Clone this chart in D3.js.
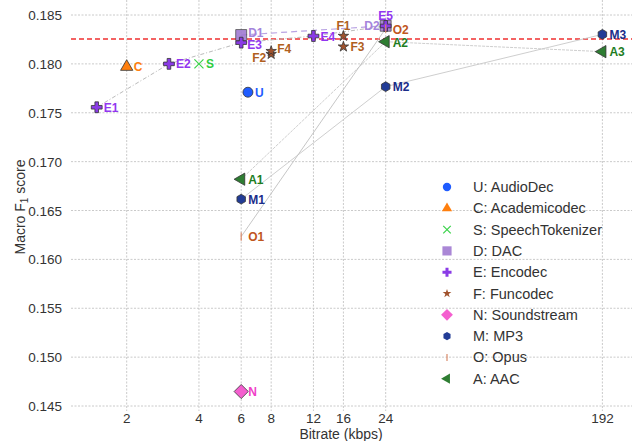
<!DOCTYPE html>
<html>
<head>
<meta charset="utf-8">
<script src="https://cdn.jsdelivr.net/npm/d3@7"></script>
<style>
  body { margin: 0; background: #fff; }
  text { font-family: "Liberation Sans", Arial, sans-serif; }
</style>
</head>
<body>
<svg id="chart" width="632" height="441"></svg>
<script>
/*****************************************************
 * data
 *****************************************************/
const xTicks = [2, 4, 6, 8, 12, 16, 24, 192];
const yTicks = [0.145, 0.150, 0.155, 0.160, 0.165, 0.170, 0.175, 0.180, 0.185];
const referenceScore = 0.18255;   // red dashed line

// each codec: [label, kbps, macro F1]
const audioDec       = [["U", 6.4, 0.1771]];
const academicodec   = [["C", 2, 0.1797]];
const speechTokenizer = [["S", 4, 0.1800]];
const dac            = [["D1", 6, 0.18295], ["D2", 24, 0.1839]];
const encodec        = [["E1", 1.5, 0.17556], ["E2", 3, 0.1800], ["E3", 6, 0.18217], ["E4", 12, 0.18285], ["E5", 24, 0.18388]];
const funcodec       = [["F1", 16, 0.18285], ["F2", 8, 0.1810], ["F3", 16, 0.18176], ["F4", 8, 0.1813]];
const soundstream    = [["N", 6, 0.14648]];
const mp3            = [["M1", 6, 0.16616], ["M2", 24, 0.17767], ["M3", 192, 0.18302]];
const opus           = [["O1", 6, 0.16233], ["O2", 24, 0.1836]];
const aac            = [["A1", 6, 0.1682], ["A2", 24, 0.18227], ["A3", 192, 0.18125]];

const legendNames = ["U: AudioDec", "C: Academicodec", "S: SpeechTokenizer", "D: DAC", "E: Encodec",
                     "F: Funcodec", "N: Soundstream", "M: MP3", "O: Opus", "A: AAC"];

/*****************************************************
 * styles
 *****************************************************/
const hexagon = {
  draw(ctx, size) {
    const r = Math.sqrt(size / (3 * Math.sqrt(3) / 2));
    for (let i = 0; i < 6; i++) {
      const a = Math.PI / 3 * i - Math.PI / 2;
      i ? ctx.lineTo(r * Math.cos(a), r * Math.sin(a)) : ctx.moveTo(r * Math.cos(a), r * Math.sin(a));
    }
    ctx.closePath();
  }
};
const vline = {
  draw(ctx, size) { const h = Math.sqrt(size) / 2; ctx.moveTo(0, -h); ctx.lineTo(0, h); }
};
const rhomb = {
  draw(ctx, size) {
    const r = Math.sqrt(size / 2);
    ctx.moveTo(0, -r); ctx.lineTo(r, 0); ctx.lineTo(0, r); ctx.lineTo(-r, 0); ctx.closePath();
  }
};

const groups = [
  { pts: audioDec,        type: d3.symbolCircle,   size: 78,  fill: "#1f5cff", stroke: "#333", text: "#1f5cff" },
  { pts: academicodec,    type: d3.symbolTriangle, size: 65,  fill: "#ff7f0e", stroke: "#333", text: "#ff7f0e" },
  { pts: speechTokenizer, type: d3.symbolX,        size: 55,  fill: "none", stroke: "#3ad34a", text: "#2ecc40", strokeOnly: true },
  { pts: dac,             type: d3.symbolSquare,   size: 120, fill: "#9b72cf", stroke: "#333", text: "#a585dc", opacity: 0.85 },
  { pts: encodec,         type: d3.symbolCross,    size: 65,  fill: "#8a3be6", stroke: "#333", text: "#9236f0" },
  { pts: funcodec,        type: d3.symbolStar,     size: 34,  fill: "#a0522d", stroke: "#333", text: "#b0601e" },
  { pts: soundstream,     type: rhomb,             size: 100, fill: "#f45fcf", stroke: "#333", text: "#f040c8" },
  { pts: mp3,             type: hexagon,           size: 62,  fill: "#223c96", stroke: "#333", text: "#1a2d8a" },
  { pts: opus,            type: vline,             size: 70,  fill: "none", stroke: "#d98a6a", text: "#c0561e", strokeOnly: true },
  { pts: aac,             type: d3.symbolTriangle, size: 65,  fill: "#2e7d32", stroke: "#333", text: "#1e7d1e", rotate: -90 }
];

// connecting lines between operating points of one codec
const connections = [
  { pts: encodec, order: ["E1", "E2", "E3", "E4", "E5"], stroke: "#bbb", dash: "4,2,1,2", width: 1 },
  { pts: dac,     order: ["D1", "D2"], stroke: "#b9a3e3", dash: "6,4", width: 1.2 },
  { pts: mp3,     order: ["M1", "M2", "M3"], stroke: "#c8c8c8", dash: null, width: 0.9 },
  { pts: aac,     order: ["A1", "A2", "A3"], stroke: "#c8c8c8", dash: "3,1", width: 0.9 },
  { pts: opus,    order: ["O1", "O2"], stroke: "#c0c0c0", dash: null, width: 0.9 }
];

// label placement: [dx, dy, anchor]
const labelPos = {
  F1: [0, -6, "middle"], E5: [0, -6, "middle"], D2: [-6, 4, "end"], F2: [-5, 8, "end"],
  F4: [6, 2, "start"], O2: [7, 5, "start"], E3: [6, 6.5, "start"], D1: [7, 1.5, "start"],
  A2: [7, 5.5, "start"]
};

/*****************************************************
 * chart
 *****************************************************/
const svg = d3.select("#chart");
const plot = { left: 71, right: 632, top: 0, bottom: 411 };

const xRef = d3.scaleLog().domain([2, 192]).range([126.7, 602.4]);
const x = d3.scaleLog().domain([xRef.invert(plot.left), xRef.invert(plot.right)]).range([plot.left, plot.right]);
const y = d3.scaleLinear().domain([0.145, 0.185]).range([406, 15]);

// grid
svg.append("g").selectAll("line").data(yTicks).enter().append("line")
  .attr("x1", plot.left).attr("x2", plot.right)
  .attr("y1", d => y(d)).attr("y2", d => y(d))
  .attr("stroke", "#c4c4c4").attr("stroke-width", 0.9).attr("stroke-dasharray", "2,1.5");
svg.append("g").selectAll("line").data(xTicks).enter().append("line")
  .attr("x1", d => x(d)).attr("x2", d => x(d))
  .attr("y1", plot.top).attr("y2", plot.bottom)
  .attr("stroke", "#c4c4c4").attr("stroke-width", 0.9).attr("stroke-dasharray", "2,1.5");

// tick labels
svg.append("g").selectAll("text").data(yTicks).enter().append("text")
  .attr("x", 62).attr("y", d => y(d) + 5)
  .attr("text-anchor", "end").attr("font-size", 13.5).attr("fill", "#333")
  .text(d => d3.format(".3f")(d));
svg.append("g").selectAll("text").data(xTicks).enter().append("text")
  .attr("x", d => x(d)).attr("y", 423)
  .attr("text-anchor", "middle").attr("font-size", 13.5).attr("fill", "#333")
  .text(d => d);

// axis titles
svg.append("text").attr("x", 341).attr("y", 438.5).attr("text-anchor", "middle")
  .attr("font-size", 14).attr("fill", "#333").text("Bitrate (kbps)");
const yt = svg.append("text").attr("transform", "translate(25,207) rotate(-90)")
  .attr("text-anchor", "middle").attr("font-size", 14).attr("fill", "#333");
yt.append("tspan").text("Macro F");
yt.append("tspan").attr("font-size", 10).attr("dy", 3).text("1");
yt.append("tspan").attr("dy", -3).text(" score");

// reference line
svg.append("line")
  .attr("x1", plot.left).attr("x2", plot.right)
  .attr("y1", y(referenceScore)).attr("y2", y(referenceScore))
  .attr("stroke", "#f03030").attr("stroke-width", 1.4).attr("stroke-dasharray", "5,3");

// connecting lines
const line = d3.line().x(d => x(d[1])).y(d => y(d[2]));
connections.forEach(c => {
  const pts = c.order.map(k => c.pts.find(p => p[0] === k));
  svg.append("path").attr("d", line(pts)).attr("fill", "none")
    .attr("stroke", c.stroke).attr("stroke-width", c.width)
    .attr("stroke-dasharray", c.dash);
});

// markers
function drawMarker(sel, g, scale) {
  sel.attr("d", d3.symbol().type(g.type).size(g.size * (scale || 1)))
    .attr("fill", g.strokeOnly ? "none" : g.fill)
    .attr("stroke", g.stroke)
    .attr("stroke-width", g.strokeOnly ? 1.2 : 0.8)
    .attr("opacity", g.opacity || 1);
}
groups.forEach(g => {
  svg.append("g").selectAll("path").data(g.pts).enter().append("path")
    .attr("transform", d => `translate(${x(d[1])},${y(d[2])}) rotate(${g.rotate || 0})`)
    .call(drawMarker, g);
});

// point labels
groups.forEach(g => {
  svg.append("g").selectAll("text").data(g.pts).enter().append("text")
    .attr("x", d => x(d[1]) + (labelPos[d[0]] ? labelPos[d[0]][0] : 7))
    .attr("y", d => y(d[2]) + (labelPos[d[0]] ? labelPos[d[0]][1] : 4.5))
    .attr("text-anchor", d => labelPos[d[0]] ? labelPos[d[0]][2] : "start")
    .attr("font-size", 12).attr("font-weight", "bold")
    .attr("fill", g.text)
    .text(d => d[0]);
});

// legend
const leg = svg.append("g");
groups.forEach((g, i) => {
  const ly = 187 + i * 21.3;
  leg.append("path")
    .attr("transform", `translate(447,${ly}) rotate(${g.rotate || 0})`)
    .call(drawMarker, g, 0.7)
    .attr("stroke", g.strokeOnly ? g.stroke : "none");
  leg.append("text").attr("x", 473).attr("y", ly + 5)
    .attr("font-size", 14.5).attr("fill", "#333").text(legendNames[i]);
});
</script>
</body>
</html>
